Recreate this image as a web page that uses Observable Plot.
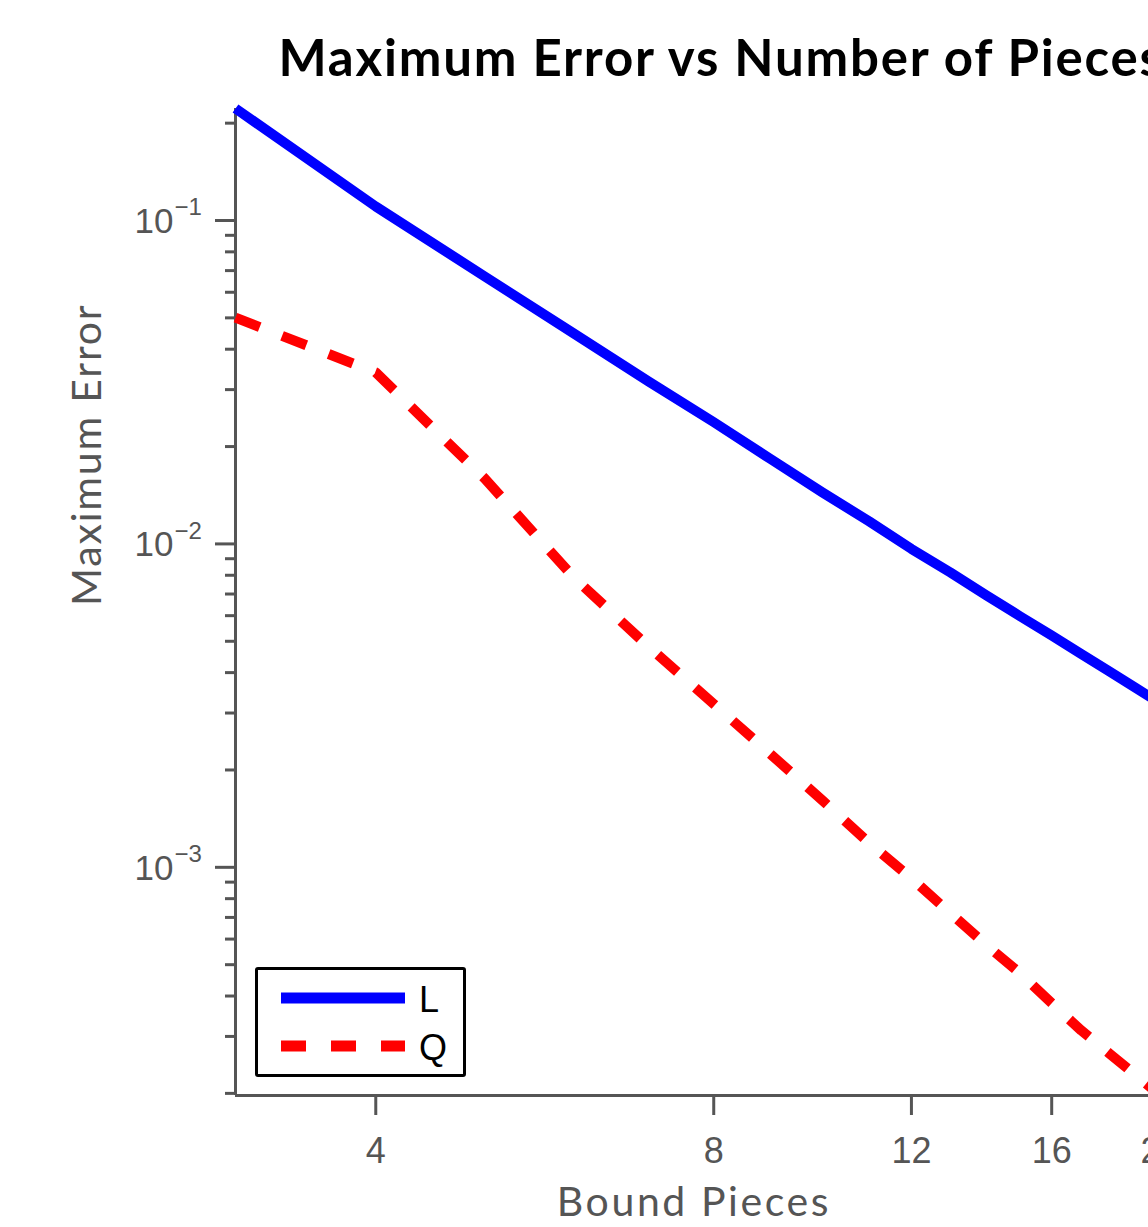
<!DOCTYPE html>
<html>
<head>
<meta charset="utf-8">
<script src="https://cdn.jsdelivr.net/npm/d3@7"></script>
<script src="https://cdn.jsdelivr.net/npm/@observablehq/plot@0.6"></script>
<style>
  html, body { margin: 0; padding: 0; background: #fff; overflow: hidden; }
  #chart { position: relative; width: 1148px; height: 1227px; overflow: hidden; }
  #chart > svg { max-width: none !important; }
  #legend { position: absolute; left: 255px; top: 967px; width: 205px; height: 104px;
            border: 3px solid #000; border-radius: 3px; background: #fff; }
  #legend svg { display: block; }
</style>
</head>
<body>
<div id="chart"></div>
<script>
// Maximum error of the bound for each number of pieces
const pieces = [3, 4, 5, 6, 7, 8, 9, 10, 11, 12, 13, 14, 15, 16, 17, 18, 19, 20];
const errorL = [0.222, 0.1105, 0.0672, 0.0448, 0.0318, 0.0238, 0.01825, 0.01442, 0.01175, 0.00965,
                0.00816, 0.00693, 0.00597, 0.00521, 0.00457, 0.00404, 0.00359, 0.00321];
const errorQ = [0.0501, 0.0339, 0.01594, 0.0079, 0.00481, 0.0032, 0.00223, 0.00161, 0.00119, 0.000925,
                0.000721, 0.000574, 0.00047, 0.00038, 0.000313, 0.000266, 0.000228, 0.000197];

const seriesNames = ["L", "Q"];
const seriesColors = ["#0000ff", "#ff0000"];
const seriesDash = [null, "26,24"];

const xTicks = [4, 8, 12, 16, 20];
const yExponents = [-3, -2, -1];

const titleText = "Maximum Error vs Number of Pieces";
const xLabel = "Bound Pieces";
const yLabel = "Maximum Error";

const axisColor = "#555";
const labelFont = "Lato, 'DejaVu Sans', sans-serif";
const tickFont = "'Liberation Sans', Arial, sans-serif";

const tableL = pieces.map((p, i) => ({pieces: p, error: errorL[i]}));
const tableQ = pieces.map((p, i) => ({pieces: p, error: errorQ[i]}));

const yMin = d3.min(errorQ);
const yMax = d3.max(errorL);
const yMajor = yExponents.map(e => Math.pow(10, e));
// minor decade ticks (2..9 × 10^e) that fall inside the domain
const yMinor = [];
for (let e = -4; e <= -1; e++) {
  for (let k = 2; k <= 9; k++) {
    const v = k * Math.pow(10, e);
    if (v >= yMin * 0.999 && v <= yMax) yMinor.push(v);
  }
}

const chart = Plot.plot({
  width: 1180,
  height: 1227,
  marginLeft: 235,
  marginRight: 20,
  marginTop: 108,
  marginBottom: 132,
  style: {fontFamily: tickFont, background: "#fff", overflow: "visible", maxWidth: "none"},
  x: {type: "log", domain: [3, 20]},
  y: {type: "log", domain: [yMin, yMax]},
  marks: [
    Plot.axisY({ticks: yMinor, tickSize: 10, tickFormat: () => "", color: axisColor, strokeWidth: 3, label: null}),
    Plot.axisY({ticks: yMajor, tickSize: 20, tickFormat: () => "", color: axisColor, strokeWidth: 3, label: null}),
    // decade labels: base and superscript exponent
    Plot.text(yMajor, {y: d => d, frameAnchor: "left", text: () => "10", textAnchor: "end",
      dx: -62, dy: 1, fontSize: 35, fill: axisColor, fontFamily: tickFont}),
    Plot.text(yMajor, {y: d => d, frameAnchor: "left", text: (d, i) => "\u2212" + Math.abs(yExponents[i]),
      textAnchor: "start", dx: -61, dy: -13, fontSize: 24, fill: axisColor, fontFamily: tickFont}),
    Plot.axisX({ticks: xTicks, tickSize: 20, tickPadding: 22, tickFormat: d => String(d),
      fontSize: 36, color: axisColor, strokeWidth: 3, label: null}),
    Plot.ruleX([3], {stroke: axisColor, strokeWidth: 3}),
    Plot.ruleY([yMin], {stroke: axisColor, strokeWidth: 3}),
    Plot.line(tableL, {x: "pieces", y: "error", stroke: seriesColors[0], strokeWidth: 10,
      strokeLinecap: "butt", strokeLinejoin: "round"}),
    Plot.line(tableQ, {x: "pieces", y: "error", stroke: seriesColors[1], strokeWidth: 10,
      strokeDasharray: seriesDash[1], strokeLinecap: "butt", strokeLinejoin: "round"}),
    Plot.text([titleText], {text: d => d, frameAnchor: "top-left", textAnchor: "start", lineAnchor: "bottom",
      dx: 43, dy: -33, fontSize: 51, fontWeight: "bold", fill: "#000", fontFamily: labelFont}),
    Plot.text([xLabel], {text: d => d, frameAnchor: "bottom", lineAnchor: "bottom",
      dx: -4, dy: 120, fontSize: 41, fill: axisColor, fontFamily: labelFont}),
    Plot.text([yLabel], {text: d => d, frameAnchor: "left", rotate: -90, lineAnchor: "middle",
      dx: -148, dy: 4, fontSize: 41, fill: axisColor, fontFamily: labelFont})
  ]
});

// widen the label lettering a little
const spacing = new Map([[titleText, "1.8px"], [xLabel, "2.6px"], [yLabel, "1.8px"]]);
d3.select(chart).selectAll("text").each(function () {
  const s = spacing.get(this.textContent);
  if (s) this.style.letterSpacing = s;
});

const container = document.getElementById("chart");
container.appendChild(chart);

// legend box
const legend = document.createElement("div");
legend.id = "legend";
const ns = "http://www.w3.org/2000/svg";
const lsvg = document.createElementNS(ns, "svg");
lsvg.setAttribute("width", 205);
lsvg.setAttribute("height", 104);
seriesNames.forEach((name, i) => {
  const cy = 28 + i * 48;
  const ln = document.createElementNS(ns, "line");
  ln.setAttribute("x1", 23); ln.setAttribute("x2", 147);
  ln.setAttribute("y1", cy); ln.setAttribute("y2", cy);
  ln.setAttribute("stroke", seriesColors[i]);
  ln.setAttribute("stroke-width", 11);
  if (seriesDash[i]) ln.setAttribute("stroke-dasharray", "25,25");
  lsvg.appendChild(ln);
  const tx = document.createElementNS(ns, "text");
  tx.setAttribute("x", 161);
  tx.setAttribute("y", cy + 14);
  tx.setAttribute("font-size", 36);
  tx.setAttribute("font-family", tickFont);
  tx.setAttribute("fill", "#000");
  tx.textContent = name;
  lsvg.appendChild(tx);
});
legend.appendChild(lsvg);
container.appendChild(legend);
</script>
</body>
</html>
